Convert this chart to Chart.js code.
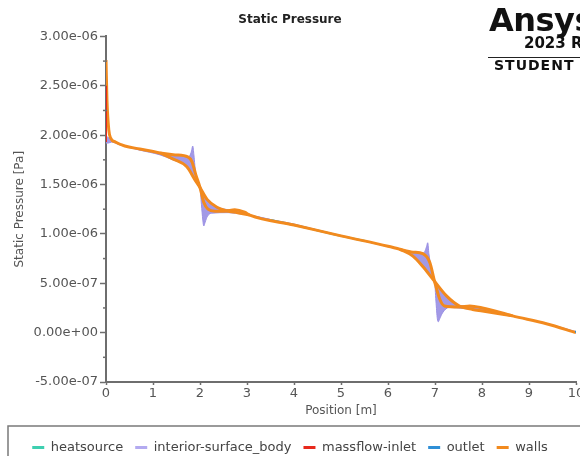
<!DOCTYPE html>
<html>
<head>
<meta charset="utf-8">
<script src="https://cdn.jsdelivr.net/npm/chart.js@4.4.1/dist/chart.umd.min.js"></script>
<style>
  html, body { margin: 0; padding: 0; background: #fff; overflow: hidden; }
  #wrap { position: relative; width: 580px; height: 464px; }
  #c { position: absolute; left: 0; top: 0; }
  .logo { position: absolute; font-family: "DejaVu Sans", sans-serif; font-weight: bold; color: #111; white-space: nowrap; }
  #ansys { left: 489px; top: 1px; font-size: 32px; letter-spacing: -0.5px; }
  #rel { left: 524px; top: 34px; font-size: 15px; }
  #rule { position: absolute; left: 488px; top: 57px; width: 100px; height: 0; border-top: 1.5px solid #222; }
  #student { left: 494px; top: 57px; font-size: 14px; letter-spacing: 1px; }
</style>
</head>
<body>
<div id="wrap">
  <canvas id="c" width="580" height="464"></canvas>
  <div class="logo" id="ansys">Ansys</div>
  <div class="logo" id="rel">2023 R1</div>
  <div id="rule"></div>
  <div class="logo" id="student">STUDENT</div>
</div>
<script>
// ---- data (pressure values in units of 1e-6 Pa) ----
const Y_UNIT = 1e-6;
const xTickLabels = ['0','1','2','3','4','5','6','7','8','9','10'];
const yTickLabels = ['-5.00e-07','0.00e+00','5.00e-07','1.00e-06','1.50e-06','2.00e-06','2.50e-06','3.00e-06'];
const seriesNames = ['heatsource','interior-surface_body','massflow-inlet','outlet','walls'];

const wallsX = [0, 0.02, 0.06, 0.1, 0.2, 0.4, 0.72, 1.15, 1.47, 1.74, 1.83, 1.91, 2.0, 2.08, 2.17, 2.32, 2.53, 2.74, 2.95, 3.06, 4, 5, 6, 6.25, 6.53, 6.74, 6.89, 6.99, 7.1, 7.2, 7.52, 7.74, 8.01, 8.65, 9.37, 10];
const wallsY = [2.76, 2.36, 2.05, 1.97, 1.93, 1.89, 1.86, 1.82, 1.80, 1.78, 1.73, 1.60, 1.47, 1.32, 1.25, 1.23, 1.23, 1.245, 1.22, 1.19, 1.09, 0.98, 0.875, 0.845, 0.815, 0.80, 0.71, 0.52, 0.34, 0.27, 0.26, 0.27, 0.25, 0.17, 0.09, 0.0];

const wallsAlt1X = [1.15, 1.42, 1.72, 1.89, 2.0, 2.15, 2.36, 2.57, 2.8, 3.06];
const wallsAlt1Y = [1.82, 1.76, 1.68, 1.55, 1.47, 1.35, 1.27, 1.235, 1.215, 1.19];
const wallsAlt2X = [6.25, 6.53, 6.74, 6.99, 7.25, 7.52, 7.8, 8.01, 8.65];
const wallsAlt2Y = [0.845, 0.775, 0.67, 0.52, 0.37, 0.27, 0.235, 0.22, 0.17];

const interiorUpperX = [0, 0.1, 0.3, 0.7, 1.15, 1.5, 1.72, 1.78, 1.82, 1.845, 1.87, 1.91, 2.0, 2.1, 2.2, 2.4, 2.6, 2.8, 3.0, 4, 5, 6, 6.5, 6.72, 6.78, 6.82, 6.845, 6.87, 6.92, 6.99, 7.1, 7.25, 7.5, 7.75, 8.0, 8.6, 9.4, 10];
const interiorUpperY = [1.99, 1.96, 1.91, 1.86, 1.82, 1.795, 1.78, 1.79, 1.84, 1.89, 1.80, 1.60, 1.47, 1.39, 1.31, 1.265, 1.245, 1.24, 1.20, 1.10, 0.98, 0.875, 0.82, 0.80, 0.82, 0.87, 0.91, 0.80, 0.65, 0.52, 0.45, 0.37, 0.275, 0.27, 0.25, 0.17, 0.09, 0.01];

const interiorLowerX = [0, 0.05, 0.12, 0.3, 0.7, 1.15, 1.42, 1.72, 1.89, 2.0, 2.03, 2.06, 2.08, 2.11, 2.16, 2.25, 2.6, 2.9, 3.06, 4, 5, 6, 6.25, 6.5, 6.74, 6.9, 6.99, 7.02, 7.05, 7.07, 7.1, 7.16, 7.3, 7.6, 8.0, 8.6, 9.4, 10];
const interiorLowerY = [1.92, 1.92, 1.93, 1.90, 1.85, 1.80, 1.75, 1.68, 1.55, 1.47, 1.30, 1.14, 1.08, 1.12, 1.18, 1.21, 1.215, 1.20, 1.19, 1.09, 0.98, 0.87, 0.84, 0.78, 0.67, 0.58, 0.52, 0.32, 0.14, 0.11, 0.14, 0.20, 0.255, 0.245, 0.22, 0.17, 0.09, 0.0];

const massflowX = [0, 0, 0, 0];
const massflowY = [1.93, 2.1, 2.3, 2.5];
const outletX = [10, 10];
const outletY = [0.0, 0.02];
const heatsourceX = [3.5, 4.0, 4.5, 5.0, 5.5];
const heatsourceY = [1.14, 1.09, 1.035, 0.98, 0.93];

// ---- styles ----
const C_TEAL = '#3ecfb0', C_PURPLE = '#9a90e4', C_RED = '#e8291c', C_BLUE = '#2f8fd6', C_ORANGE = '#f28a1e';
const AXIS_COLOR = '#6e6e6e', TEXT_COLOR = '#555';
const FONT = '"DejaVu Sans", sans-serif';

const pts = (xs, ys) => xs.map((x, i) => ({ x: x, y: ys[i] * Y_UNIT }));

const datasets = [
  { label: seriesNames[0], data: pts(heatsourceX, heatsourceY), borderColor: C_TEAL, backgroundColor: C_TEAL, borderWidth: 2, legendColor: C_TEAL, order: 4 },
  { label: seriesNames[1], data: pts(interiorUpperX, interiorUpperY), borderColor: C_PURPLE, backgroundColor: 'rgba(154,144,228,0.92)', borderWidth: 1, fill: '+4', legendColor: '#b3aaf0', order: 5 },
  { label: seriesNames[2], data: pts(massflowX, massflowY), borderColor: C_RED, backgroundColor: C_RED, borderWidth: 2, legendColor: C_RED, order: 1 },
  { label: seriesNames[3], data: pts(outletX, outletY), borderColor: C_BLUE, backgroundColor: C_BLUE, borderWidth: 2, legendColor: C_BLUE, order: 0 },
  { label: seriesNames[4], data: pts(wallsX, wallsY), borderColor: C_ORANGE, backgroundColor: C_ORANGE, borderWidth: 3, legendColor: C_ORANGE, order: 2 },
  { label: 'interior-lower', helper: true, data: pts(interiorLowerX, interiorLowerY), borderColor: C_PURPLE, backgroundColor: C_PURPLE, borderWidth: 1, order: 6 },
  { label: 'walls-alt', helper: true, data: pts(wallsAlt1X, wallsAlt1Y).concat([{ x: 4.5, y: null }], pts(wallsAlt2X, wallsAlt2Y)), borderColor: C_ORANGE, backgroundColor: C_ORANGE, borderWidth: 3, order: 3 }
];
datasets.forEach(d => { d.showLine = true; d.pointRadius = 0; d.cubicInterpolationMode = 'monotone'; d.spanGaps = false; if (d.fill === undefined) d.fill = false; });

const minorTicks = {
  id: 'minorTicks',
  afterDraw(chart) {
    const s = chart.scales.y, ctx = chart.ctx;
    ctx.save();
    ctx.strokeStyle = AXIS_COLOR; ctx.lineWidth = 1.5;
    s.ticks.forEach((t, i) => {
      if (i % 2 === 1) {
        const y = s.getPixelForValue(t.value);
        ctx.beginPath(); ctx.moveTo(s.right - 3, y); ctx.lineTo(s.right + 1, y); ctx.stroke();
      }
    });
    ctx.restore();
  }
};
const legendBorder = {
  id: 'legendBorder',
  afterDraw(chart) {
    const lg = chart.legend, ctx = chart.ctx;
    ctx.save();
    ctx.strokeStyle = '#7a7a7a'; ctx.lineWidth = 1.5;
    ctx.strokeRect(8, lg.top - 3, 700, 200);
    ctx.restore();
  }
};

new Chart(document.getElementById('c'), {
  type: 'scatter',
  data: { datasets: datasets },
  options: {
    responsive: false,
    animation: false,
    layout: { padding: { top: 0, left: 0, right: 0, bottom: 0 } },
    plugins: {
      tooltip: { enabled: false },
      title: { display: true, text: 'Static Pressure', color: '#222', font: { family: FONT, size: 12, weight: 'bold' }, padding: { top: 13, bottom: 9 } },
      legend: {
        position: 'bottom',
        labels: {
          font: { family: FONT, size: 13 }, color: '#444', boxWidth: 12, boxHeight: 3, padding: 12,
          generateLabels: (chart) => chart.data.datasets
            .map((ds, i) => ({ text: ds.label, fillStyle: ds.legendColor, strokeStyle: ds.legendColor, lineWidth: 0, hidden: false, datasetIndex: i, fontColor: '#444', helper: ds.helper }))
            .filter(it => !it.helper),
          sort: (a, b) => a.datasetIndex - b.datasetIndex
        }
      }
    },
    scales: {
      x: {
        type: 'linear', min: 0, max: 10,
        ticks: { stepSize: 1, autoSkip: false, maxRotation: 0, padding: 1, color: TEXT_COLOR, font: { family: FONT, size: 13 }, callback: (v, i) => xTickLabels[i] },
        grid: { drawOnChartArea: false, tickLength: 3, color: AXIS_COLOR, tickWidth: 1.5 },
        border: { color: AXIS_COLOR, width: 2 },
        title: { display: true, text: 'Position [m]', color: TEXT_COLOR, font: { family: FONT, size: 12 }, padding: { top: 1.2, bottom: 10.8 } },
        afterFit: (s) => { s.paddingRight = 4; }
      },
      y: {
        type: 'linear', min: -5e-7, max: 3e-6,
        ticks: { stepSize: 2.5e-7, autoSkip: false, padding: 2, color: TEXT_COLOR, font: { family: FONT, size: 13 }, callback: (v, i) => (i % 2 === 0 ? yTickLabels[i / 2] : '') },
        grid: { drawOnChartArea: false, tickLength: 6, tickWidth: 1.5, tickColor: (ctx) => (ctx.index % 2 === 0 ? AXIS_COLOR : 'rgba(0,0,0,0)') },
        border: { color: AXIS_COLOR, width: 2 },
        title: { display: true, text: 'Static Pressure [Pa]', color: TEXT_COLOR, font: { family: FONT, size: 12 }, padding: { top: 13, bottom: 0 } },
        afterFit: (s) => { s.width = 106; }
      }
    }
  },
  plugins: [minorTicks, legendBorder]
});
</script>
</body>
</html>
